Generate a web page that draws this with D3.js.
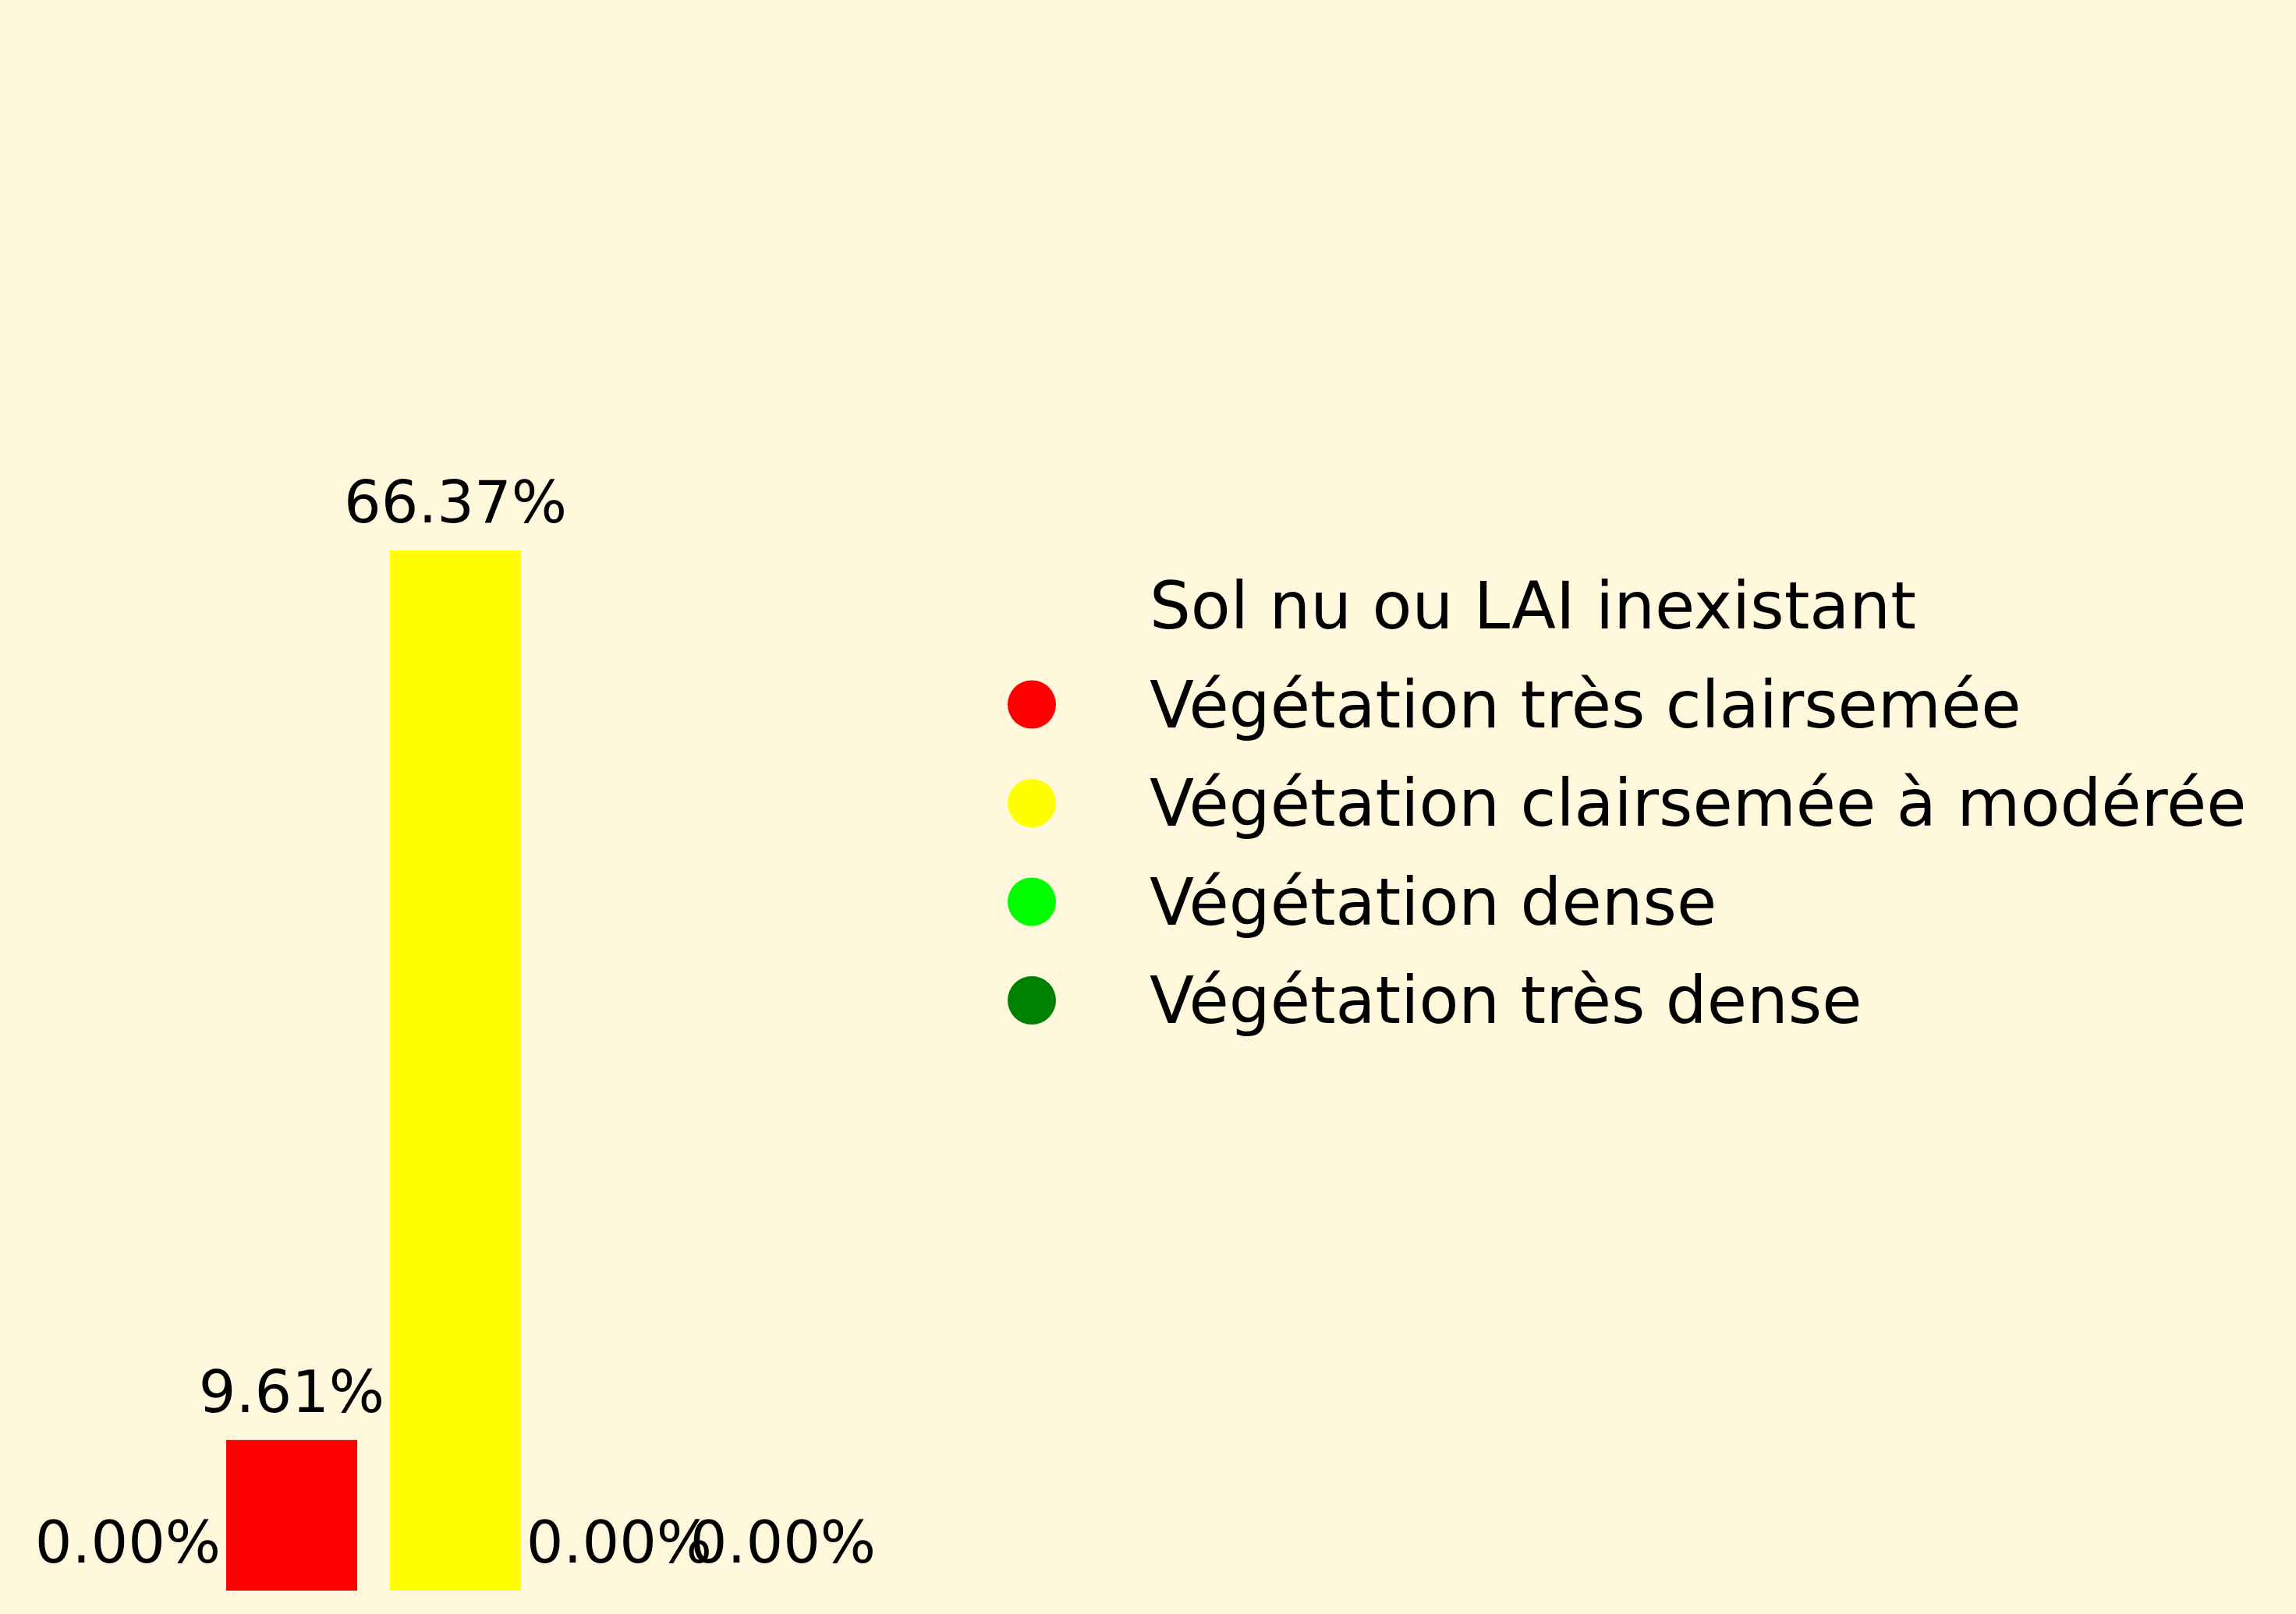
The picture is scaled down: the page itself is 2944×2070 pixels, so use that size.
<!DOCTYPE html>
<html>

<head>
    <meta charset="utf-8">
    <script src="https://d3js.org/d3.v7.min.js"></script>

    <style type="text/css">
        body {
            margin: 0;
            background: #FFF8DC;
        }

        text {
            font-family: "DejaVu Sans", sans-serif;
            fill: black;
        }
    </style>
</head>

<body>
    <script>
        // data
        var categories = ["Sol nu ou LAI inexistant", "Végétation très clairsemée",
            "Végétation clairsemée à modérée", "Végétation dense", "Végétation très dense"];
        var values = [0, 9.61, 66.37, 0, 0];
        var colors = ["#FFF8DC", "#FF0000", "#FFFF00", "#00FF00", "#008000"];

        var width = 2944;
        var height = 2070;

        var svg = d3.select("body")
            .append("svg")
            .attr("width", width)
            .attr("height", height)
            .style("display", "block")
            .style("background", "#FFF8DC");

        // X scale (one band per category)
        var x_scale = d3.scaleBand()
            .domain(categories)
            .range([59, 1109])
            .paddingInner(0.2)
            .paddingOuter(0.1);

        // Y scale (percent)
        var y_scale = d3.scaleLinear()
            .domain([0, 100])
            .range([2040, 30]);

        var color = d3.scaleOrdinal().domain(categories).range(colors);

        svg.selectAll("rect.bar")
            .data(categories)
            .enter()
            .append("rect")
            .attr("class", "bar")
            .attr("x", function (d) { return x_scale(d); })
            .attr("y", function (d, i) { return y_scale(values[i]); })
            .attr("width", x_scale.bandwidth())
            .attr("height", function (d, i) { return y_scale(0) - y_scale(values[i]); })
            .attr("fill", function (d) { return color(d); });

        svg.selectAll("text.lbl")
            .data(categories)
            .enter()
            .append("text")
            .attr("class", "lbl")
            .attr("x", function (d) { return x_scale(d) + x_scale.bandwidth() / 2; })
            .attr("y", function (d, i) { return y_scale(values[i]) - 36; })
            .attr("text-anchor", "middle")
            .style("font-size", "75px")
            .text(function (d, i) { return values[i].toFixed(2) + "%"; });

        // legend
        var legend = svg.append("g")
            .attr("transform", "translate(1323, 0)");

        var row = d3.scaleLinear().domain([0, 4]).range([777, 1283]);

        var items = legend.selectAll("g")
            .data(categories)
            .enter()
            .append("g")
            .attr("transform", function (d, i) { return "translate(0," + row(i) + ")"; });

        items.append("circle")
            .attr("r", 31)
            .attr("fill", function (d) { return color(d); });

        items.append("text")
            .attr("x", 151)
            .attr("y", 29)
            .style("font-size", "83.3px")
            .text(function (d) { return d; });
    </script>
</body>

</html>
